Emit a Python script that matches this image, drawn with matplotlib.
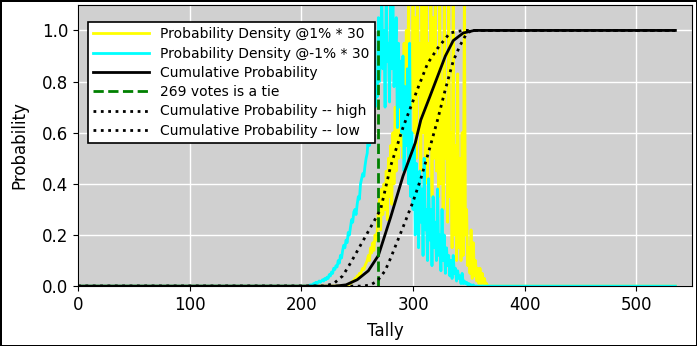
import numpy as np
import matplotlib
matplotlib.use('Agg')
import matplotlib.pyplot as plt

n_tally = 536
tie = 269

# probability density * 30, one value per tally, starting at the given tally
cyan_start = 205
dens_minus = [
    0, 0, 0, 0.005, 0.005, 0.005, 0.01, 0.01, 0.015, 0.01,
    0.015, 0.02, 0.015, 0.02, 0.025, 0.02, 0.03, 0.025, 0.035, 0.03,
    0.045, 0.04, 0.055, 0.05, 0.07, 0.065, 0.08, 0.075, 0.1, 0.09,
    0.12, 0.11, 0.14, 0.16, 0.15, 0.18, 0.17, 0.21, 0.2, 0.23,
    0.26, 0.25, 0.29, 0.3, 0.28, 0.32, 0.35, 0.34, 0.4, 0.42,
    0.44, 0.43, 0.47, 0.5, 0.52, 0.6, 0.55, 0.58, 0.68, 0.62,
    0.96, 0.7, 0.78, 0.74, 1.05, 0.8, 0.92, 1.15, 0.85, 1.0,
    0.7, 1.15, 0.88, 0.95, 0.72, 1.15, 0.85, 1.15, 0.78, 0.9,
    1.05, 0.62, 0.95, 0.7, 0.88, 0.6, 0.9, 0.45, 0.78, 0.55,
    0.85, 0.4, 0.95, 0.35, 0.6, 0.3, 0.55, 0.2, 0.48, 0.35,
    0.15, 0.45, 0.25, 0.38, 0.12, 0.5, 0.22, 0.3, 0.1, 0.42,
    0.18, 0.3, 0.08, 0.35, 0.15, 0.25, 0.1, 0.38, 0.12, 0.2,
    0.06, 0.3, 0.1, 0.2, 0.05, 0.15, 0.08, 0.12, 0.04, 0.1,
    0.03, 0.12, 0.05, 0.07, 0.02, 0.06, 0.03, 0.04, 0.01, 0.05,
    0.01, 0.02, 0.01, 0.015, 0.005, 0.01, 0.005, 0.005, 0, 0.005,
]

yellow_start = 240
dens_plus = [
    0, 0.005, 0.005, 0.01, 0.01, 0.015, 0.02, 0.02, 0.03, 0.025,
    0.04, 0.035, 0.05, 0.045, 0.06, 0.07, 0.065, 0.08, 0.09, 0.1,
    0.12, 0.1, 0.15, 0.13, 0.17, 0.14, 0.2, 0.18, 0.22, 0.3,
    0.34, 0.22, 0.38, 0.28, 0.4, 0.3, 0.45, 0.26, 0.5, 0.35,
    0.55, 0.32, 0.6, 0.4, 0.7, 0.45, 0.75, 0.5, 0.85, 0.55,
    0.78, 0.5, 0.95, 0.6, 1.0, 0.55, 1.15, 0.65, 0.9, 0.7,
    1.15, 0.6, 1.05, 0.5, 1.15, 0.75, 0.95, 0.45, 1.15, 0.6,
    1.1, 0.5, 1.15, 0.4, 0.95, 0.55, 1.15, 0.35, 1.05, 0.5,
    1.15, 0.45, 0.9, 0.35, 1.15, 0.4, 0.8, 0.3, 1.15, 0.5,
    0.7, 0.25, 1.15, 0.35, 0.6, 0.15, 1.15, 0.2, 0.55, 0.1,
    0.83, 0.15, 0.5, 0.1, 0.6, 0.12, 1.15, 0.2, 0.3, 0.08,
    0.15, 0.05, 0.22, 0.03, 0.17, 0.04, 0.1, 0.02, 0.07, 0.01,
    0.07, 0.01, 0.05, 0.01, 0.03, 0.005, 0.01, 0, 0,
]

# cumulative curves read at a few tallies
cdf_x = [0, 230, 240, 250, 260, 269, 280, 291, 302, 307, 315, 322, 329, 336, 345, 355, 535]
cdf_y = [0, 0, 0.005, 0.025, 0.06, 0.12, 0.27, 0.43, 0.56, 0.65, 0.74, 0.82, 0.9, 0.96, 0.99, 1.0, 1.0]

high_x = [0, 220, 229, 237, 244, 253, 262, 271, 280, 291, 304, 313, 322, 333, 345, 535]
high_y = [0, 0, 0.01, 0.04, 0.09, 0.16, 0.23, 0.3, 0.47, 0.62, 0.77, 0.87, 0.93, 0.99, 1.0, 1.0]

low_x = [0, 255, 262, 268, 275, 280, 291, 300, 307, 315, 322, 329, 336, 342, 347, 352, 535]
low_y = [0, 0, 0.005, 0.02, 0.06, 0.11, 0.23, 0.33, 0.42, 0.54, 0.65, 0.77, 0.88, 0.94, 0.98, 1.0, 1.0]

tally = np.arange(n_tally)
yellow = np.zeros(n_tally)
yellow[yellow_start:yellow_start + len(dens_plus)] = dens_plus
cyan = np.zeros(n_tally)
cyan[cyan_start:cyan_start + len(dens_minus)] = dens_minus

fig = plt.figure(figsize=(6.97, 3.46), dpi=100, edgecolor='black', linewidth=1)
ax = fig.add_axes([0.112, 0.173, 0.881, 0.813])
ax.set_facecolor('#d0d0d0')
ax.grid(True, color='white', linewidth=1)
ax.set_axisbelow(True)

ax.plot(tally, yellow, color='yellow', lw=2, label='Probability Density @1% * 30')
ax.plot(tally, cyan, color='cyan', lw=2, label='Probability Density @-1% * 30')
ax.plot(cdf_x, cdf_y, color='black', lw=2, label='Cumulative Probability')
ax.plot([tie, tie], [0, 1], color='green', lw=2, ls='--', label='%d votes is a tie' % tie)
ax.plot(high_x, high_y, color='black', lw=2, ls=':', label='Cumulative Probability -- high')
ax.plot(low_x, low_y, color='black', lw=2, ls=':', label='Cumulative Probability -- low')

ax.set_xlim(0, 550)
ax.set_ylim(0, 1.1)
ax.set_xticks([0, 100, 200, 300, 400, 500])
ax.set_yticks([0, 0.2, 0.4, 0.6, 0.8, 1.0])
ax.tick_params(labelsize=12)
ax.set_xlabel('Tally', fontsize=12, labelpad=6)
ax.set_ylabel('Probability', fontsize=12, labelpad=10)

leg = ax.legend(loc='upper left', bbox_to_anchor=(0.016, 0.94), borderaxespad=0,
                fontsize=10, fancybox=False, framealpha=1, edgecolor='black',
                handlelength=4, labelspacing=0.38)
leg.get_frame().set_linewidth(1.2)

fig.savefig('out.png', dpi=100, edgecolor=fig.get_edgecolor())
